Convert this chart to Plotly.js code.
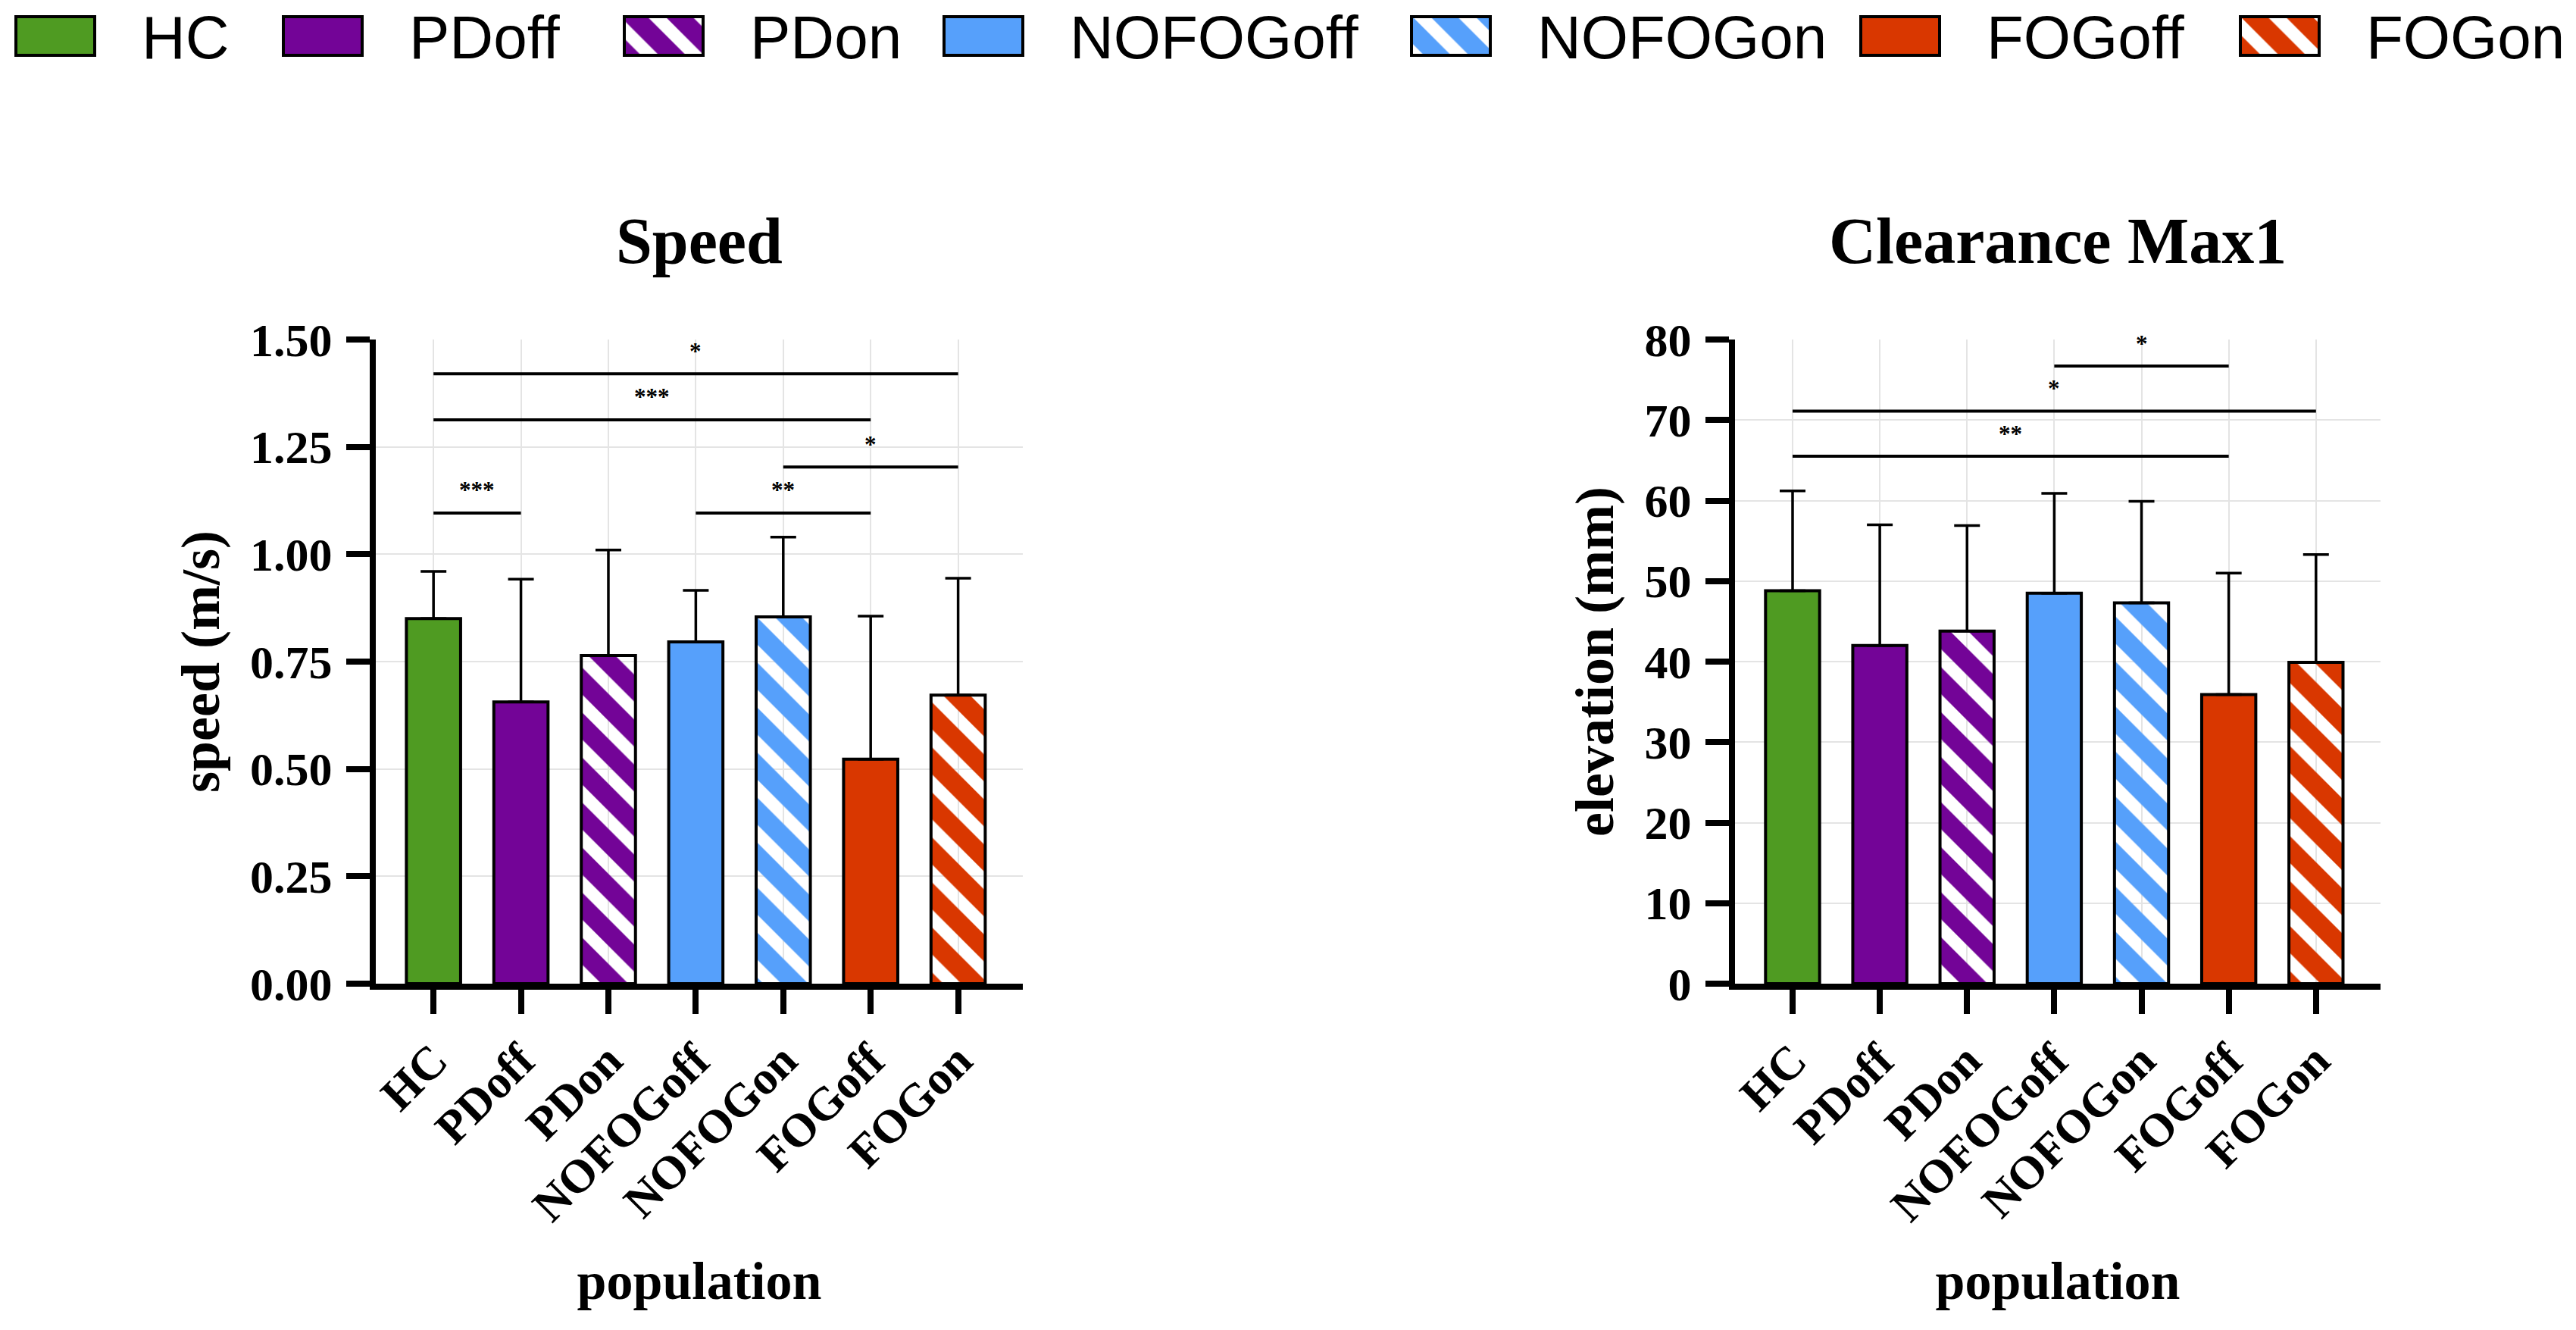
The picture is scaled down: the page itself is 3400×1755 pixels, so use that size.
<!DOCTYPE html>
<html><head><meta charset="utf-8">
<script src="https://cdn.plot.ly/plotly-3.0.1.min.js"></script>
<style>html,body{margin:0;padding:0;background:#fff}</style>
</head><body><div id="chart" style="width:3400px;height:1755px"></div>
<script>
// ---- data ----
const groups = ['HC','PDoff','PDon','NOFOGoff','NOFOGon','FOGoff','FOGon'];
const speedMean = [0.850, 0.656, 0.764, 0.796, 0.854, 0.523, 0.672];
const speedSD   = [0.110, 0.286, 0.246, 0.120, 0.186, 0.333, 0.272];
const clearMean = [48.8, 42.0, 43.8, 48.5, 47.3, 35.9, 39.9];
const clearSD   = [12.4, 15.0, 13.1, 12.4, 12.6, 15.1, 13.4];
const speedSigFrom  = ['HC','HC','NOFOGon','HC','NOFOGoff'];
const speedSigTo    = ['FOGon','FOGoff','FOGon','PDoff','FOGoff'];
const speedSigLevel = [1.420, 1.313, 1.203, 1.096, 1.096];
const speedSigLabel = ['*','***','*','***','**'];
const clearSigFrom  = ['NOFOGoff','HC','HC'];
const clearSigTo    = ['FOGoff','FOGon','FOGoff'];
const clearSigLevel = [76.7, 71.1, 65.5];
const clearSigLabel = ['*','*','**'];

// ---- styles ----
const groupColor = {HC:'#4f9b22', PDoff:'#730497', PDon:'#730497', NOFOGoff:'#56a0fb', NOFOGon:'#56a0fb', FOGoff:'#d93700', FOGon:'#d93700'};
const groupHatched = {HC:false, PDoff:false, PDon:true, NOFOGoff:false, NOFOGon:true, FOGoff:false, FOGon:true};
const colors = groups.map(g => groupColor[g]);
const patterns = groups.map(g => groupHatched[g] ? '\\' : '');
const serif = 'Liberation Serif, Times New Roman, serif';
const W = 3400, H = 1755;
const legendBoxLeft = [21, 374, 824, 1246, 1863, 2456, 2957];

function pattern(){
  return {shape: patterns, fgcolor:'#ffffff', bgcolor: colors, fgopacity:1, fillmode:'replace', size:42, solidity:0.6};
}
function barTrace(vals, sd, xa, ya){
  return {
    type:'bar', x: groups, y: vals, xaxis: xa, yaxis: ya, width: 0.62,
    marker:{color: colors, line:{color:'black', width:4}, pattern: pattern()},
    error_y:{type:'data', symmetric:false, array: sd, arrayminus: sd.map(()=>0),
      color:'black', thickness:3.5, width:17},
    hoverinfo:'x+y', showlegend:false
  };
}
const legendTrace = {
  type:'bar', x: legendBoxLeft.map(l => l + 52), y: groups.map(()=>1), base: 0, width: 104,
  xaxis:'x3', yaxis:'y3', showlegend:false, hoverinfo:'skip',
  marker:{color: colors, line:{color:'black', width:4}, pattern: pattern()}
};

function sigShapes(from, to, level, xr, yr){
  return from.map((f,i)=>({type:'line', xref:xr, yref:yr, x0: groups.indexOf(f), x1: groups.indexOf(to[i]),
    y0: level[i], y1: level[i], line:{color:'black', width:4}}));
}
function sigLabels(from, to, level, label, xr, yr){
  return from.map((f,i)=>({xref:xr, yref:yr, x:(groups.indexOf(f)+groups.indexOf(to[i]))/2, y: level[i],
    text: label[i], showarrow:false, yanchor:'middle', yshift:30,
    font:{family:serif, size:31, color:'black', weight:'bold'}}));
}

const tickFont = {family:serif, size:62, color:'black', weight:'bold'};
const titleFont = {family:serif, size:72, color:'black', weight:'bold'};
function xAxis(domain, anchor){
  return {domain, anchor, type:'category', categoryorder:'array', categoryarray: groups, range:[-0.66, 6.74],
    showline:true, linewidth:8, linecolor:'black', ticks:'outside', ticklen:32, tickwidth:8, tickcolor:'black',
    tickangle:-45, tickfont: tickFont, showgrid:true, gridcolor:'#e4e4e4', gridwidth:2, zeroline:false,
    title:{text:'population', font:{family:serif, size:70, color:'black', weight:'bold'}, standoff:45}, fixedrange:true};
}
function yAxis(domain, range, dtick, fmt, title, anchor){
  return {domain, range, dtick, tick0:0, tickformat: fmt, anchor,
    showline:true, linewidth:8, linecolor:'black', ticks:'outside', ticklen:31, tickwidth:8, tickcolor:'black',
    tickfont: tickFont, ticklabelstandoff:6, showgrid:true, gridcolor:'#e4e4e4', gridwidth:2, zeroline:false,
    title:{text:title, font: titleFont, standoff:20}, fixedrange:true};
}
const yDom = [1 - 1298/H, 1 - 448/H];

const annotations = [
  {xref:'x domain', yref:'paper', x:0.5, y:1-318/H, text:'Speed', showarrow:false, yanchor:'middle',
   font:{family:serif, size:86, color:'black', weight:'bold'}},
  {xref:'x2 domain', yref:'paper', x:0.5, y:1-318/H, text:'Clearance Max1', showarrow:false, yanchor:'middle',
   font:{family:serif, size:86, color:'black', weight:'bold'}},
  ...sigLabels(speedSigFrom, speedSigTo, speedSigLevel, speedSigLabel, 'x', 'y'),
  ...sigLabels(clearSigFrom, clearSigTo, clearSigLevel, clearSigLabel, 'x2', 'y2'),
  ...groups.map((g,i)=>({xref:'paper', yref:'paper', x:(legendBoxLeft[i]+164)/W, y:1-50/H, text:g,
    showarrow:false, xanchor:'left', yanchor:'middle',
    font:{family:'Liberation Sans, Arial, sans-serif', size:80, color:'black'}}))
];

const layout = {
  width: W, height: H, margin:{l:0, r:0, t:0, b:0}, paper_bgcolor:'white', plot_bgcolor:'white',
  showlegend:false, title:{text:''},
  xaxis: xAxis([496/W, 1350/W], 'y'),
  yaxis: yAxis(yDom, [0, 1.5], 0.25, '.2f', 'speed (m/s)', 'x'),
  xaxis2: xAxis([2290/W, 3142/W], 'y2'),
  yaxis2: yAxis(yDom, [0, 80], 10, 'd', 'elevation (mm)', 'x2'),
  xaxis3: {domain:[0,1], range:[0, W], visible:false, anchor:'y3', fixedrange:true},
  yaxis3: {domain:[1-78.1/H, 1-16.9/H], range:[-0.1, 1.1], visible:false, anchor:'x3', fixedrange:true},
  shapes: [
    ...sigShapes(speedSigFrom, speedSigTo, speedSigLevel, 'x', 'y'),
    ...sigShapes(clearSigFrom, clearSigTo, clearSigLevel, 'x2', 'y2')
  ],
  annotations
};

Plotly.newPlot('chart', [barTrace(speedMean, speedSD, 'x', 'y'), barTrace(clearMean, clearSD, 'x2', 'y2'), legendTrace],
  layout, {staticPlot:true, displayModeBar:false});
</script></body></html>
